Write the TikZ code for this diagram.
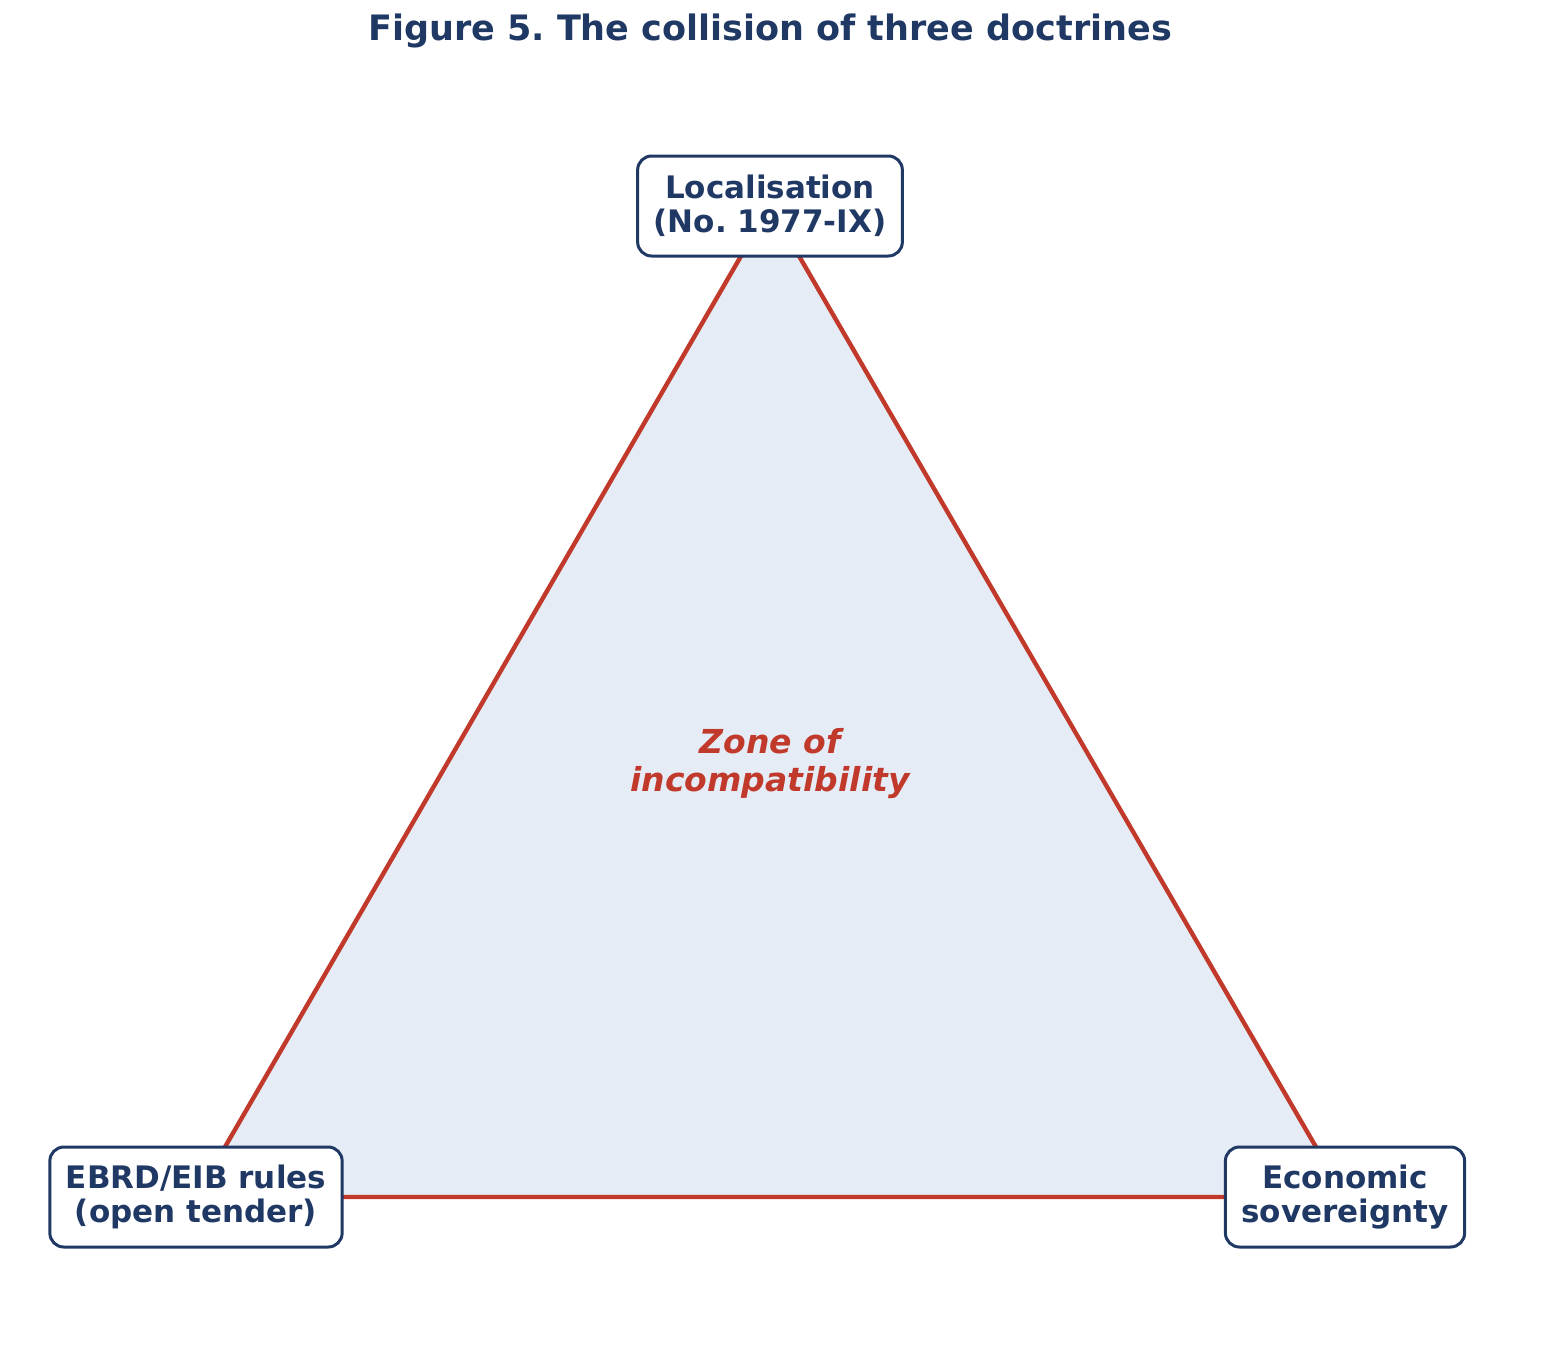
\documentclass[tikz,border=0pt]{standalone}
\usepackage{fontspec}
\setmainfont{DejaVu Sans}
\usepackage{tikz}
\frenchspacing
\definecolor{navy}{RGB}{31,56,100}
\definecolor{brick}{RGB}{192,57,43}
\definecolor{zonefill}{RGB}{230,236,245}
\tikzset{
  doctrine/.style={draw=navy, line width=1.5pt, rounded corners=7pt, fill=white,
    text=navy, font=\bfseries\fontsize{15.5}{17}\selectfont, align=center,
    minimum height=50pt, inner xsep=8pt},
  edge/.style={draw=brick, line width=2.2pt}
}
\begin{document}
\begin{tikzpicture}[x=0.5pt,y=-0.5pt]
\useasboundingbox (0,0) rectangle (1541,1365);

% title
\node (title) at (770,31) [text=navy, font=\bfseries\fontsize{17.5}{20}\selectfont] {Figure 5. The collision of three doctrines};

% vertices
\coordinate (top) at (770,206);
\coordinate (left) at (196,1197);
\coordinate (right) at (1345,1197);

% zone
\fill[zonefill] (top) -- (left) -- (right) -- cycle;
\draw[edge] (top) -- (left) -- (right) -- cycle;
\node (zone) at (770,764) [text=brick, align=center, font=\bfseries\itshape\fontsize{16.5}{19}\selectfont] {Zone of\\incompatibility};

% doctrines
\node (loc) at (top) [doctrine] {Localisation\\(No. 1977-IX)};
\node (ebrd) at (left) [doctrine] {EBRD/EIB rules\\(open tender)};
\node (eco) at (right) [doctrine] {Economic\\sovereignty};

\end{tikzpicture}
\end{document}
